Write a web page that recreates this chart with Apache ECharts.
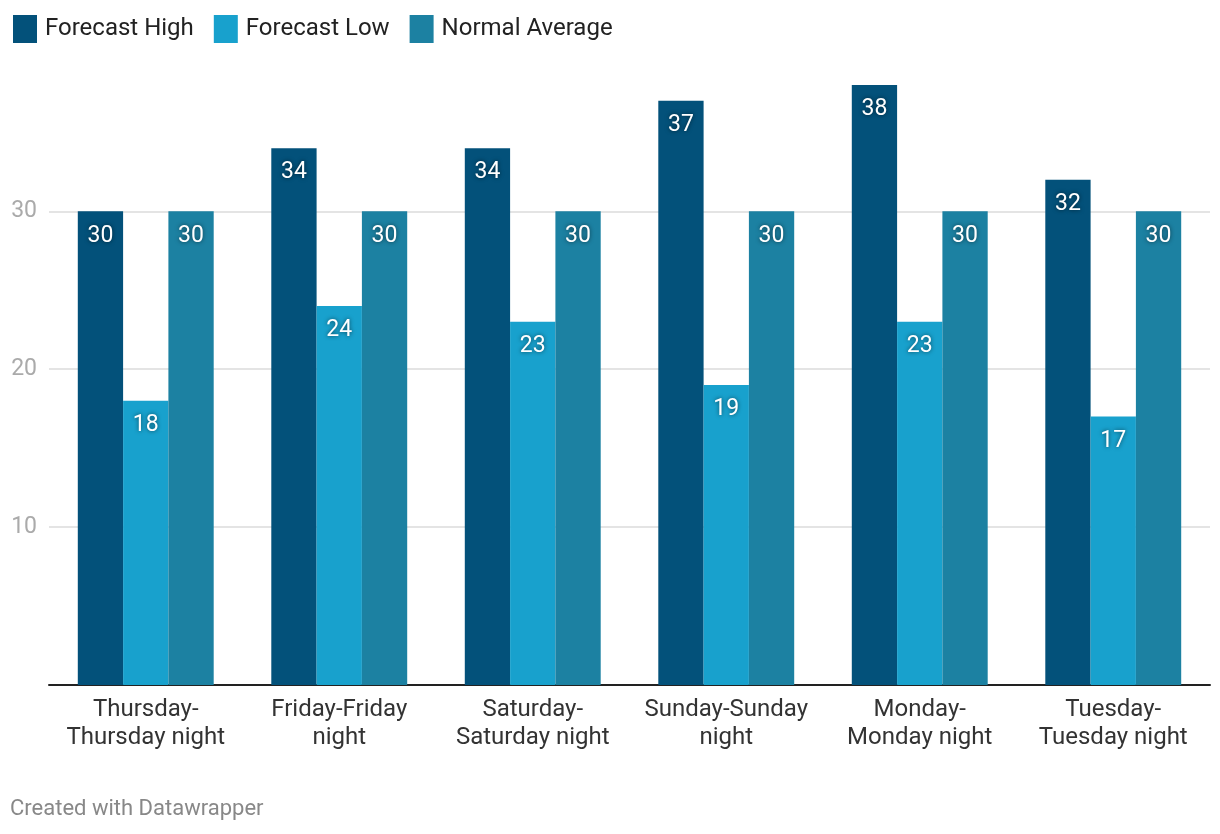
<!DOCTYPE html>
<html><head><meta charset="utf-8">
<script src="https://cdn.jsdelivr.net/npm/echarts@6/dist/echarts.min.js"></script>
<style>html,body{margin:0;padding:0;background:#fff}#c{width:1220px;height:834px}</style>
</head><body><div id="c"></div>
<script>
const categories = ["Thursday-\nThursday night","Friday-Friday\nnight","Saturday-\nSaturday night","Sunday-Sunday\nnight","Monday-\nMonday night","Tuesday-\nTuesday night"];
const forecastHigh = [30,34,34,37,38,32];
const forecastLow = [18,24,23,19,23,17];
const normalAverage = [30,30,30,30,30,30];
const seriesNames = ["Forecast High","Forecast Low","Normal Average"];
const colors = ["#03517a","#18a1cd","#1c81a2"];
const FONT = "Roboto";
const chart = echarts.init(document.getElementById('c'));
const label = {show:true,position:'insideTop',distance:13,color:'#fff',fontFamily:FONT,fontSize:23,
  textShadowColor:'rgba(0,0,0,0.6)',textShadowBlur:4};
const mk = (name,data,i)=>({name,type:'bar',data,barWidth:45.3,barGap:'0%',itemStyle:{color:colors[i],borderWidth:0},label,emphasis:{disabled:true}});
chart.setOption({
  animation:false,
  textStyle:{fontFamily:FONT},
  legend:{left:8,top:10,itemWidth:24,itemHeight:28,itemGap:20,icon:'rect',
    textStyle:{fontFamily:FONT,fontSize:24,color:'#222',padding:[0,0,0,3]},data:seriesNames},
  grid:{left:49,right:10,top:85,bottom:149},
  xAxis:{type:'category',data:categories,
    axisLine:{lineStyle:{color:'#222',width:2}},axisTick:{show:false},
    axisLabel:{interval:0,fontFamily:FONT,fontSize:24,color:'#333',lineHeight:28,margin:11}},
  yAxis:{type:'value',min:0,max:38,interval:10,
    splitLine:{showMaxLine:false,lineStyle:{color:'#e4e4e4',width:2}},axisLine:{show:false},axisTick:{show:false},
    axisLabel:{fontFamily:FONT,fontSize:23,color:'#aaa',margin:12,showMaxLabel:false,
      formatter:v=>(v===0||v===38)?'':v}},
  series:[mk(seriesNames[0],forecastHigh,0),mk(seriesNames[1],forecastLow,1),mk(seriesNames[2],normalAverage,2)],
  graphic:[{type:'text',left:10,top:798,style:{text:'Created with Datawrapper',fontFamily:FONT,fontSize:22,fill:'#888'}}]
});
</script></body></html>
